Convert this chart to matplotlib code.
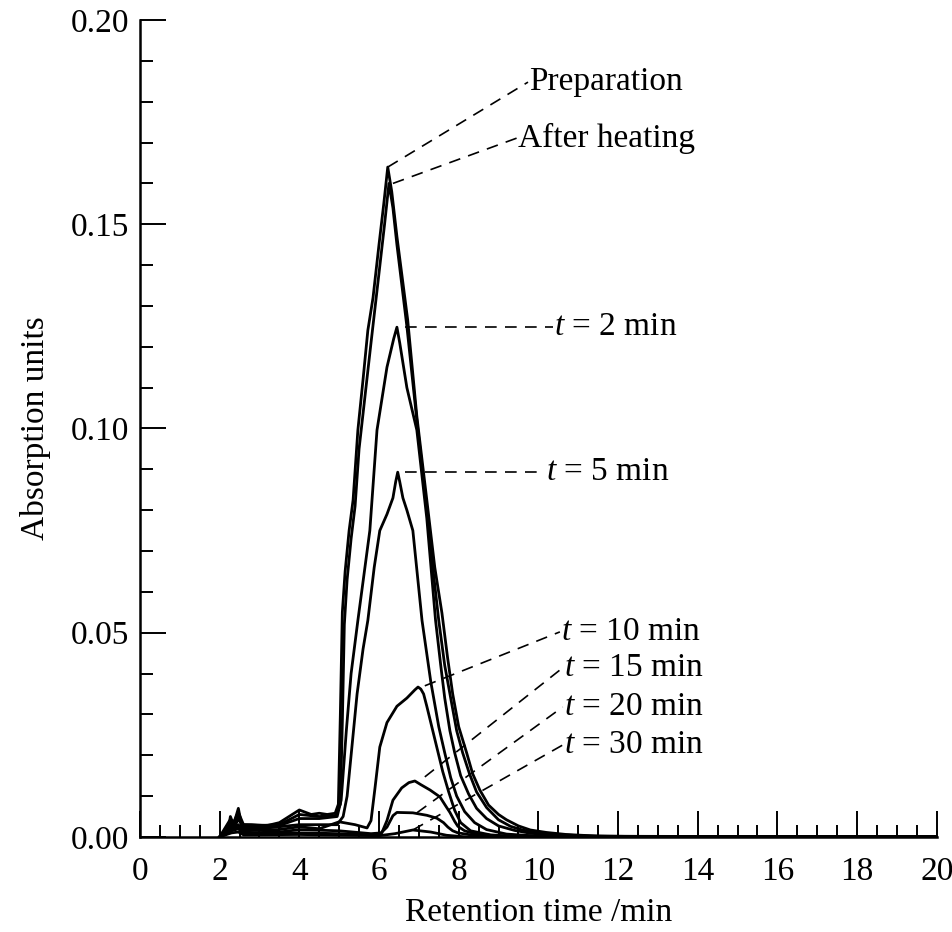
import matplotlib
matplotlib.use("Agg")
import matplotlib.pyplot as plt
from matplotlib.ticker import MultipleLocator

plt.rcParams['font.family'] = 'Liberation Serif'
plt.rcParams['mathtext.fontset'] = 'custom'
plt.rcParams['mathtext.rm'] = 'Liberation Serif'
plt.rcParams['mathtext.it'] = 'Liberation Serif:italic'

# chromatograms (retention time in min, absorbance)
prep_x = [2.0, 2.2, 2.27, 2.35, 2.47, 2.55, 2.8, 3.2, 3.5, 4.0, 4.3, 4.5, 4.7, 4.9, 4.98,
          5.03, 5.08, 5.15, 5.25, 5.35, 5.47, 5.6, 5.72, 5.85, 6.0, 6.12, 6.22, 6.32, 6.45,
          6.72, 6.95, 7.2, 7.4, 7.58, 7.72, 7.85, 8.0, 8.2, 8.35, 8.53, 8.75, 9.0, 9.2,
          9.5, 9.8, 10.2, 10.7, 11.5, 12.5, 20.0]
prep_y = [0, 0.001, 0.005, 0.003, 0.007, 0.003, 0.003, 0.0028, 0.0035, 0.0066, 0.0055, 0.0058,
          0.0055, 0.0058, 0.008, 0.03, 0.055, 0.065, 0.075, 0.0825, 0.0996, 0.112, 0.124,
          0.132, 0.145, 0.155, 0.164, 0.158, 0.147, 0.1266, 0.103, 0.0825, 0.066, 0.0548,
          0.044, 0.035, 0.027, 0.0206, 0.0155, 0.0115, 0.0078, 0.0055, 0.0042, 0.0027, 0.0017,
          0.0011, 0.0006, 0.0002, 0.0001, 0]

heat_x = [2.0, 2.25, 2.32, 2.47, 2.6, 3.0, 3.5, 4.0, 4.5, 4.9, 5.03, 5.08, 5.13, 5.2, 5.3,
          5.4, 5.5, 5.65, 5.8, 6.0, 6.14, 6.25, 6.35, 6.45, 6.7, 6.95, 7.18, 7.35, 7.5, 7.65,
          7.8, 7.95, 8.1, 8.27, 8.45, 8.7, 9.0, 9.3, 9.6, 10.0, 10.5, 11.2, 12.0, 20.0]
heat_y = [0, 0.004, 0.003, 0.006, 0.003, 0.0028, 0.003, 0.0055, 0.005, 0.0052, 0.008, 0.028,
          0.052, 0.063, 0.073, 0.081, 0.095, 0.108, 0.121, 0.138, 0.150, 0.160, 0.154, 0.145,
          0.125, 0.102, 0.082, 0.066, 0.053, 0.042, 0.034, 0.026, 0.0206, 0.0155, 0.011,
          0.0072, 0.0042, 0.0026, 0.0017, 0.001, 0.0006, 0.0002, 0.0001, 0]

t2_x = [2.0, 2.3, 2.38, 2.47, 2.6, 3.0, 3.5, 4.0, 4.5, 4.95, 5.05, 5.12, 5.18, 5.3, 5.47,
        5.62, 5.77, 5.95, 6.2, 6.37, 6.45, 6.52, 6.7, 6.95, 7.2, 7.42, 7.55, 7.65, 7.78,
        7.9, 8.05, 8.25, 8.45, 8.7, 9.0, 9.4, 9.8, 10.6, 11.5, 20.0]
t2_y = [0, 0.004, 0.003, 0.005, 0.0025, 0.0025, 0.0028, 0.0045, 0.0045, 0.005, 0.009, 0.018,
        0.026, 0.04, 0.053, 0.064, 0.075, 0.0996, 0.115, 0.122, 0.1248, 0.121, 0.11, 0.0996,
        0.078, 0.053, 0.042, 0.034, 0.026, 0.0206, 0.015, 0.0105, 0.007, 0.0045, 0.0027,
        0.0016, 0.0009, 0.0003, 0.0001, 0]

t5_x = [2.0, 2.3, 2.38, 2.47, 2.6, 3.0, 3.5, 4.0, 4.5, 4.95, 5.1, 5.2, 5.3, 5.45, 5.6,
        5.72, 5.88, 6.02, 6.2, 6.35, 6.42, 6.47, 6.52, 6.6, 6.7, 6.85, 7.08, 7.3, 7.5,
        7.65, 7.8, 7.95, 8.15, 8.4, 8.7, 9.2, 10.0, 20.0]
t5_y = [0, 0.003, 0.0025, 0.0045, 0.002, 0.002, 0.0025, 0.003, 0.003, 0.003, 0.005, 0.01,
        0.02, 0.035, 0.046, 0.053, 0.066, 0.075, 0.079, 0.083, 0.087, 0.0893, 0.087, 0.083,
        0.08, 0.075, 0.053, 0.038, 0.027, 0.0206, 0.0145, 0.0100, 0.0062, 0.0035, 0.0018,
        0.0007, 0.0002, 0]

t10_x = [2.0, 2.3, 2.38, 2.47, 2.6, 3.5, 4.0, 4.5, 5.0, 5.4, 5.7, 5.8, 5.9, 6.02, 6.2,
         6.45, 6.7, 6.9, 6.98, 7.05, 7.12, 7.2, 7.4, 7.6, 7.75, 7.9, 8.05, 8.3, 8.8, 9.5, 20.0]
t10_y = [0, 0.0025, 0.002, 0.003, 0.0015, 0.0018, 0.0025, 0.002, 0.0037, 0.003, 0.0022,
         0.004, 0.012, 0.022, 0.028, 0.032, 0.034, 0.036, 0.0367, 0.0362, 0.035, 0.032,
         0.024, 0.016, 0.011, 0.0065, 0.0035, 0.0015, 0.0005, 0.0001, 0]

t15_x = [2.0, 2.3, 2.47, 2.6, 3.5, 4.0, 5.0, 5.8, 6.07, 6.2, 6.35, 6.57, 6.75, 6.9, 7.05,
         7.28, 7.53, 7.68, 7.78, 7.9, 7.98, 8.15, 8.4, 9.0, 20.0]
t15_y = [0, 0.002, 0.0025, 0.001, 0.0012, 0.0018, 0.0015, 0.0008, 0.001, 0.004, 0.009,
         0.012, 0.0133, 0.0137, 0.0128, 0.0115, 0.0098, 0.0075, 0.006, 0.0038, 0.0026,
         0.0015, 0.0008, 0.0002, 0]

t20_x = [2.0, 2.3, 2.47, 2.6, 4.0, 5.0, 6.0, 6.2, 6.35, 6.45, 6.85, 7.2, 7.45, 7.62, 7.73,
         7.85, 7.98, 8.5, 20.0]
t20_y = [0, 0.0015, 0.002, 0.0008, 0.001, 0.0008, 0.0005, 0.0024, 0.0052, 0.006, 0.0059,
         0.0053, 0.0046, 0.0035, 0.0024, 0.0015, 0.001, 0.0002, 0]

t30_x = [2.0, 2.3, 2.47, 2.6, 4.0, 6.0, 6.4, 6.85, 7.3, 7.7, 8.2, 20.0]
t30_y = [0, 0.001, 0.0012, 0.0005, 0.0006, 0.0003, 0.0008, 0.0017, 0.0012, 0.0004, 0, 0]

curves = [(prep_x, prep_y), (heat_x, heat_y), (t2_x, t2_y), (t5_x, t5_y),
          (t10_x, t10_y), (t15_x, t15_y), (t20_x, t20_y), (t30_x, t30_y)]

# label text, point on the curve, start of the text
labels = ["Preparation", "After heating", "$t$ = 2 min", "$t$ = 5 min",
          "$t$ = 10 min", "$t$ = 15 min", "$t$ = 20 min", "$t$ = 30 min"]
label_xy = [(6.22, 0.164), (6.35, 0.160), (6.65, 0.1248), (6.65, 0.0893),
            (7.15, 0.037), (7.15, 0.0147), (6.95, 0.0059), (6.85, 0.0017)]
label_text = [(9.74, 0.1848), (9.46, 0.1711), (10.36, 0.1248), (10.16, 0.0893),
              (10.54, 0.0502), (10.61, 0.0414), (10.61, 0.0318), (10.61, 0.0225)]

fig = plt.figure(figsize=(9.52, 9.32), dpi=100)
ax = fig.add_axes([0.147, 0.102, 0.837, 0.8765])

for x, y in curves:
    ax.plot(x, y, color='black', lw=2.0, solid_joinstyle='round')

for txt, xy, xt in zip(labels, label_xy, label_text):
    ax.plot([xy[0], xt[0]], [xy[1], xt[1]], color='black', lw=1.2,
            dashes=(7, 5), clip_on=False)
    ax.text(xt[0] + 0.03, xt[1], txt, fontsize=24, ha='left', va='center')

ax.set_xlim(0, 20)
ax.set_ylim(0, 0.20)
ax.xaxis.set_major_locator(MultipleLocator(2))
ax.xaxis.set_minor_locator(MultipleLocator(0.5))
ax.yaxis.set_major_locator(MultipleLocator(0.05))
ax.yaxis.set_minor_locator(MultipleLocator(0.01))
ax.yaxis.set_major_formatter(plt.FuncFormatter(lambda v, p: f"{v:.2f}"))

for s in ['top', 'right']:
    ax.spines[s].set_visible(False)
for s in ['left', 'bottom']:
    ax.spines[s].set_linewidth(1.8)

ax.tick_params(which='major', direction='in', length=19, width=1.4, labelsize=24)
ax.tick_params(which='minor', direction='in', length=9, width=1.4)
ax.tick_params(axis='x', which='major', pad=14)
ax.tick_params(axis='y', which='major', pad=8)

ax.set_xlabel("Retention time /min", fontsize=24, labelpad=8)
ax.set_ylabel("Absorption units", fontsize=24, labelpad=14)

fig.savefig("out.png", dpi=100)
